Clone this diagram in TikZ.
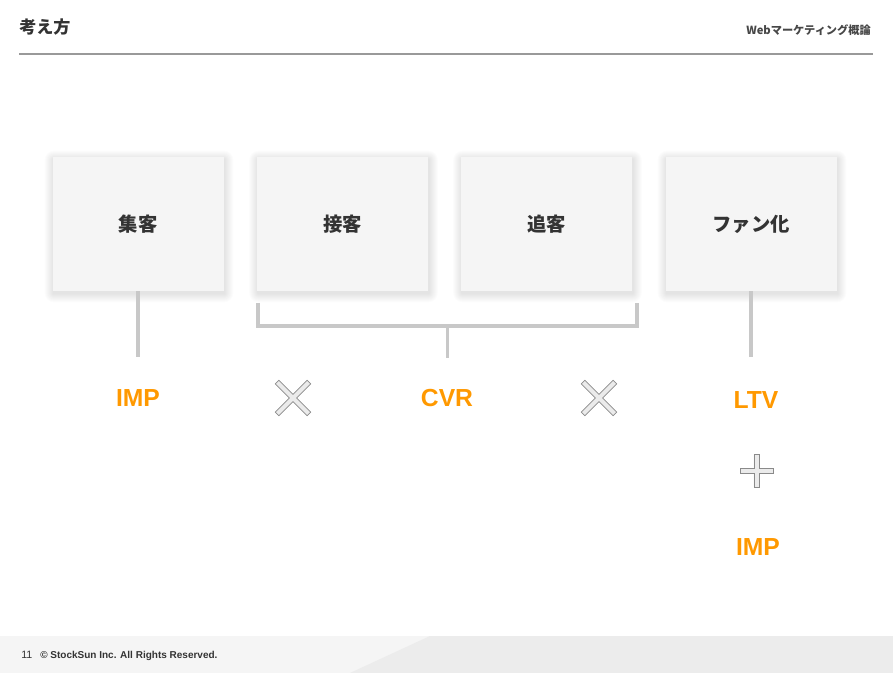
\documentclass[tikz,border=0pt]{standalone}
\usepackage{fontspec}
\setmainfont{Liberation Sans}
\newfontfamily\cjk{Noto Sans CJK JP}
\usetikzlibrary{backgrounds}
\definecolor{boxfill}{HTML}{F5F5F5}
\definecolor{linegray}{HTML}{C8C8C8}
\definecolor{txtdark}{HTML}{333333}
\definecolor{orangetxt}{HTML}{FF9900}
\definecolor{footA}{HTML}{F5F5F5}
\definecolor{footB}{HTML}{ECECEC}
\definecolor{markfill}{HTML}{EBEBEB}
\definecolor{markline}{HTML}{8A8A8A}
\begin{document}
\begin{tikzpicture}[x=0.75pt,y=-0.75pt,
  stagebox/.style={fill=boxfill, minimum width=128.25pt, minimum height=100.5pt, inner sep=0pt,
    font=\cjk\bfseries\fontsize{14.5}{16}\selectfont, text=txtdark},
  metric/.style={font=\bfseries\fontsize{18.5}{21}\selectfont, text=orangetxt, inner sep=0pt},
  conn/.style={draw=linegray, line width=2.8pt},
  plusmark/.pic={\draw[fill=markfill, draw=markline, line width=0.5pt]
    (-#1,-2.6) -- (-2.6,-2.6) -- (-2.6,-#1) -- (2.6,-#1) -- (2.6,-2.6) -- (#1,-2.6) --
    (#1,2.6) -- (2.6,2.6) -- (2.6,#1) -- (-2.6,#1) -- (-2.6,2.6) -- (-#1,2.6) -- cycle;}
]
\useasboundingbox (0,0) rectangle (893,673);
\begin{scope}[on background layer]
\fill[white] (0,0) rectangle (893,673);
\end{scope}
% header
\node[anchor=west, inner sep=0pt, font=\cjk\bfseries\fontsize{12.8}{14}\selectfont, text=txtdark] (title) at (19,27) {考え方};
\node[anchor=east, inner sep=0pt, font=\cjk\bfseries\fontsize{8.4}{10}\selectfont, text=txtdark!90] (header) at (871,30) {Webマーケティング概論};
\coordinate (hl) at (19,54);
\coordinate (hr) at (873,54);
\draw[draw=gray!80, line width=0.8pt] (hl) -- (hr);
% footer
\fill[footA] (0,636) rectangle (893,673);
\fill[footB] (430,636) -- (893,636) -- (893,673) -- (350,673) -- cycle;
\node[anchor=west, inner sep=0pt, font=\fontsize{8}{9}\selectfont, text=txtdark] (pnum) at (21,655) {11};
\node[anchor=west, inner sep=0pt, font=\bfseries\fontsize{7.5}{9}\selectfont, text=txtdark] (copy) at (40,656) {© StockSun Inc. All Rights Reserved.};
% boxes
\node[stagebox] (b1) at (138,224) {集客};
\node[stagebox] (b2) at (342.5,224) {接客};
\node[stagebox] (b3) at (546.5,224) {追客};
\node[stagebox] (b4) at (751,224) {ファン化};
\begin{scope}[on background layer]
\foreach \b in {b1,b2,b3,b4}{
  \foreach \i in {1,...,9}{
    \fill[black, opacity=0.011, rounded corners=\i*0.75pt]
      ([shift={(-\i+1.5,-\i+3)}]\b.north west) rectangle ([shift={(\i+0.5,\i+2)}]\b.south east);
  }
}
\end{scope}
% connectors
\coordinate (c1) at (138,357);
\draw[conn] (b1.south) -- (c1);
\coordinate (k1) at (258,303);
\coordinate (k2) at (258,326);
\coordinate (k3) at (637,326);
\coordinate (k4) at (637,303);
\coordinate (km) at (447.5,326);
\coordinate (kb) at (447.5,358);
\draw[conn] (k1) -- (k2) -- (k3) -- (k4);
\draw[conn] (km) -- (kb);
\coordinate (c4) at (751,357);
\draw[conn] (b4.south) -- (c4);
% metrics
\node[metric] (imp1) at (138,398) {IMP};
\node[metric] (cvr) at (447,398) {CVR};
\node[metric] (ltv) at (756,400) {LTV};
\node[metric] (imp2) at (758,547) {IMP};
% operators
\pic[rotate=45] at (293,398) {plusmark=22.5};
\pic[rotate=45] at (599,398) {plusmark=22.5};
\pic at (756.5,471) {plusmark=16.5};
\end{tikzpicture}
\end{document}
